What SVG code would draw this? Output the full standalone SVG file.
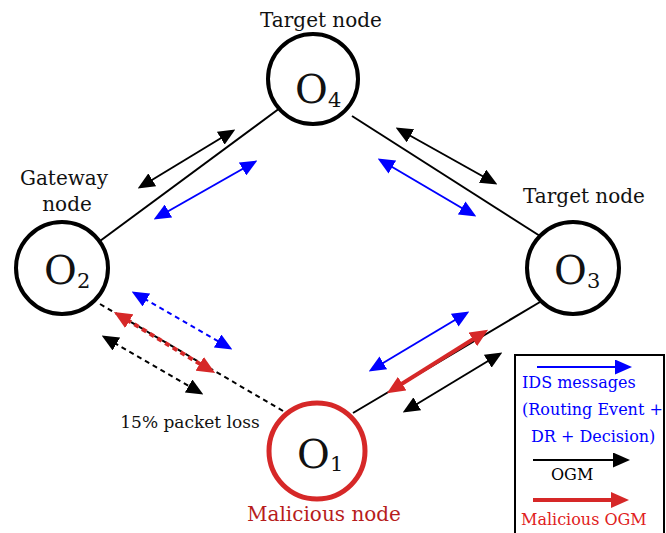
<svg xmlns="http://www.w3.org/2000/svg" width="666" height="533" viewBox="0 0 666 533">
<style>
text{font-family:"DejaVu Serif","Liberation Serif",serif}
.lbl{font-size:20px;fill:#111}
.o{font-size:40px;fill:#111}
.sub{font-size:21px;fill:#111}
.node{fill:#fff;stroke:#000;stroke-width:4}
.edge{stroke:#000;stroke-width:2;fill:none}
.blk{stroke:#000;stroke-width:2;fill:none}
.blu{stroke:#0000ff;stroke-width:2;fill:none}
.red{stroke:#d62828;stroke-width:4;fill:none}
.dash{stroke-dasharray:5 4}
.leg{font-size:16px}
</style>
<defs>
<marker id="hk" markerUnits="userSpaceOnUse" markerWidth="17" markerHeight="15" refX="12" refY="7.5" orient="auto-start-reverse"><path d="M0,0 L17,7.5 L0,15 z" fill="#000"/></marker>
<marker id="hb" markerUnits="userSpaceOnUse" markerWidth="17" markerHeight="15" refX="12" refY="7.5" orient="auto-start-reverse"><path d="M0,0 L17,7.5 L0,15 z" fill="#0000ff"/></marker>
<marker id="hr" markerUnits="userSpaceOnUse" markerWidth="18" markerHeight="16" refX="12" refY="8" orient="auto-start-reverse"><path d="M0,0 L18,8 L0,16 z" fill="#d62828"/></marker>
</defs>
<g id="connectors">
<line class="edge" x1="100" y1="241" x2="280" y2="108"/>
<line class="edge" x1="352" y1="116" x2="540" y2="236"/>
<line class="edge dash" x1="100" y1="304" x2="283" y2="411"/>
<line class="edge" x1="353" y1="413" x2="540" y2="302"/>
<line class="blk" x1="142" y1="186" x2="231" y2="132" marker-start="url(#hk)" marker-end="url(#hk)"/>
<line class="blu" x1="158" y1="217" x2="253" y2="163" marker-start="url(#hb)" marker-end="url(#hb)"/>
<line class="blk" x1="400" y1="130" x2="493" y2="182" marker-start="url(#hk)" marker-end="url(#hk)"/>
<line class="blu" x1="382" y1="161" x2="472" y2="214" marker-start="url(#hb)" marker-end="url(#hb)"/>
<line class="blu dash" x1="136" y1="294" x2="228" y2="347" stroke-width="3" marker-start="url(#hb)" marker-end="url(#hb)"/>
<line class="red dash" x1="119" y1="315" x2="210" y2="370" marker-start="url(#hr)" marker-end="url(#hr)"/>
<line class="blk dash" x1="106" y1="338" x2="199" y2="392" stroke-width="2.5" marker-start="url(#hk)" marker-end="url(#hk)"/>
<line class="blu" x1="373" y1="369" x2="465" y2="314" marker-start="url(#hb)" marker-end="url(#hb)"/>
<line class="red" x1="392" y1="390" x2="483" y2="333" marker-start="url(#hr)" marker-end="url(#hr)"/>
<line class="blk" x1="407" y1="410" x2="498" y2="355" marker-start="url(#hk)" marker-end="url(#hk)"/>
</g>
<g id="O4">
<circle class="node" cx="313" cy="79" r="45"/>
<text class="o" x="295" y="103">O</text><text class="sub" x="328" y="107">4</text>
<text class="lbl" x="321" y="27" text-anchor="middle">Target node</text>
</g>
<g id="O2">
<circle class="node" cx="62" cy="268" r="46"/>
<text class="o" x="44" y="284">O</text><text class="sub" x="77" y="288">2</text>
<text class="lbl" x="64" y="185" text-anchor="middle">Gateway</text>
<text class="lbl" x="67" y="211" text-anchor="middle">node</text>
</g>
<g id="O3">
<circle class="node" cx="573" cy="268" r="46"/>
<text class="o" x="554" y="284">O</text><text class="sub" x="587" y="288">3</text>
<text class="lbl" x="584" y="203" text-anchor="middle">Target node</text>
</g>
<g id="O1">
<circle cx="317" cy="451" r="48" fill="#fff" stroke="#d62828" stroke-width="5"/>
<text class="o" x="297" y="468">O</text><text class="sub" x="330" y="471">1</text>
<text class="lbl" x="324" y="521" text-anchor="middle" style="fill:#b71c1c">Malicious node</text>
</g>
<text class="lbl" x="190" y="428" text-anchor="middle" style="font-size:17px">15% packet loss</text>
<g id="legend">
<rect x="515" y="355" width="149" height="200" fill="#fff" stroke="#000" stroke-width="2"/>
<line class="blu" x1="537" y1="367" x2="627" y2="367" marker-end="url(#hb)"/>
<text class="leg" x="522" y="388" fill="#0000ff">IDS messages</text>
<text class="leg" x="522" y="415" fill="#0000ff">(Routing Event +</text>
<text class="leg" x="531" y="442" fill="#0000ff">DR + Decision)</text>
<line class="blk" x1="533" y1="460" x2="625" y2="460" marker-end="url(#hk)"/>
<text class="leg" x="551" y="480" fill="#000">OGM</text>
<line class="red" x1="533" y1="500" x2="623" y2="500" stroke-width="3" marker-end="url(#hr)"/>
<text class="leg" x="521" y="525" fill="#e02020">Malicious OGM</text>
</g>
</svg>
